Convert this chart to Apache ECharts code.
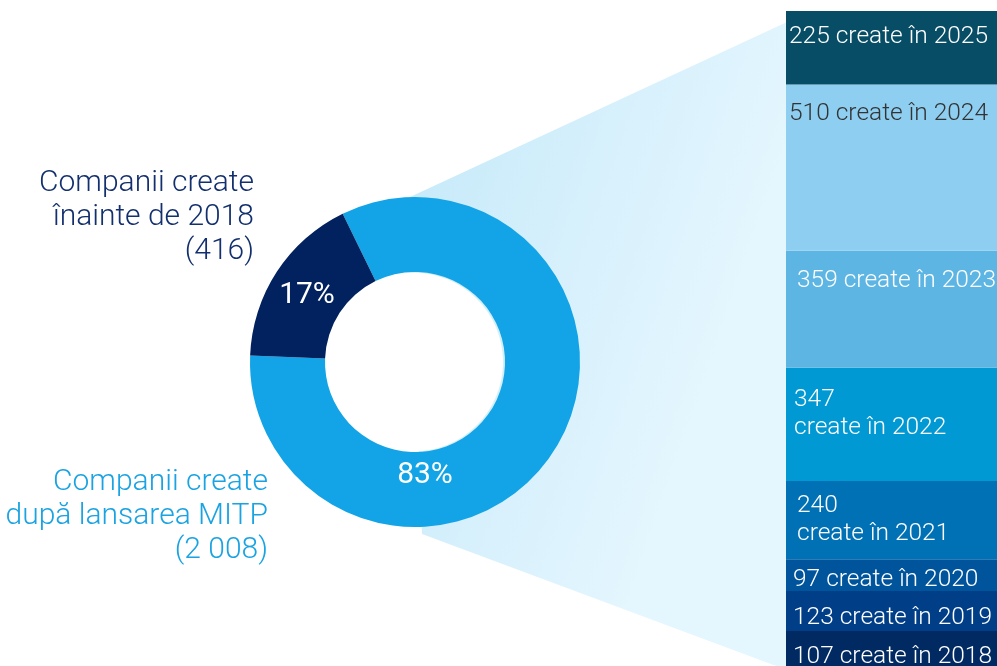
<!DOCTYPE html>
<html>
<head>
<meta charset="utf-8">
<script src="https://cdn.jsdelivr.net/npm/echarts@6/dist/echarts.min.js"></script>
<style>html,body{margin:0;padding:0;background:#fff}#c{width:997px;height:666px}</style>
</head>
<body>
<div id="c"></div>
<script>
// ---- data ----
var pieNames = ['Companii create după lansarea MITP', 'Companii create înainte de 2018'];
var pieValues = [2008, 416];
var pieLabelLines = [['Companii create', 'după lansarea MITP', '(2 008)'], ['Companii create', 'înainte de 2018', '(416)']];
var years = ['2018', '2019', '2020', '2021', '2022', '2023', '2024', '2025'];
var yearValues = [107, 123, 97, 240, 347, 359, 510, 225];
var twoLineYears = ['2021', '2022'];

// ---- styles ----
var FONT = 'Roboto';
var pieColors = ['#12a4e6', '#01215f'];
var barColors = ['#012a62', '#003f88', '#00549c', '#0071b5', '#0099d3', '#5cb5e3', '#8ecff1', '#074d66'];
var barLabelColors = ['#fff', '#fff', '#fff', '#fff', '#fff', '#fff', '#333', '#fff'];
var barLabelOffsets = [[7, 12], [7, 13], [7, 7], [11, 11], [8, 18], [11, 16], [3, 15], [3, 12]];

var total = yearValues.reduce(function (a, b) { return a + b; }, 0);
var pieTotal = pieValues.reduce(function (a, b) { return a + b; }, 0);

var chart = echarts.init(document.getElementById('c'), null, { renderer: 'canvas' });

var series = [];
series.push({
  type: 'pie',
  center: [415, 362],
  radius: [90, 165],
  startAngle: 116,
  clockwise: true,
  silent: true,
  z: 3,
  itemStyle: { borderWidth: 0 },
  label: {
    show: true,
    position: 'inside',
    color: '#fff',
    fontFamily: FONT,
    fontWeight: 400,
    fontSize: 30,
    formatter: function (p) { return Math.round(p.value / pieTotal * 100) + '%'; }
  },
  labelLine: { show: false },
  labelLayout: function (p) {
    if (p.dataIndex === 0) return { x: 425, y: 475, align: 'center', verticalAlign: 'middle' };
    return { x: 307, y: 295, align: 'center', verticalAlign: 'middle' };
  },
  data: pieValues.map(function (v, i) {
    return { name: pieNames[i], value: v, itemStyle: { color: pieColors[i] } };
  })
});

years.forEach(function (y, i) {
  series.push({
    type: 'bar',
    name: y,
    stack: 'total',
    barWidth: '100%',
    silent: true,
    itemStyle: { color: barColors[i] },
    label: {
      show: true,
      position: 'insideTopLeft',
      distance: 0,
      offset: barLabelOffsets[i],
      color: barLabelColors[i],
      fontFamily: FONT,
      fontWeight: 300,
      fontSize: 24.5,
      lineHeight: 28,
      formatter: function (p) {
        var sep = twoLineYears.indexOf(y) >= 0 ? '\n' : ' ';
        return p.value + sep + 'create în ' + y;
      }
    },
    data: [yearValues[i]]
  });
});

function leftLabel(lines, x, yTop, color) {
  return {
    type: 'text',
    z: 5,
    x: x,
    y: yTop,
    style: {
      text: lines.join('\n'),
      fill: color,
      font: '300 30px ' + FONT,
      lineHeight: 34,
      align: 'right',
      verticalAlign: 'top'
    }
  };
}

chart.setOption({
  animation: false,
  grid: { left: 786, top: 11, width: 260, height: total * 0.328, containLabel: false },
  xAxis: { type: 'category', data: ['MITP'], show: false },
  yAxis: { type: 'value', min: 0, max: total, show: false, splitLine: { show: false } },
  graphic: [
    {
      type: 'polygon',
      z: -10,
      silent: true,
      shape: { points: [[410, 197], [787, 22], [787, 670], [422, 534]] },
      style: {
        fill: new echarts.graphic.LinearGradient(0, 0, 1, 0.2, [
          { offset: 0, color: '#c3e8f9' },
          { offset: 0.55, color: '#d6f0fc' },
          { offset: 1, color: '#e4f6fe' }
        ])
      }
    },
    {
      type: 'circle',
      z: -9,
      silent: true,
      shape: { cx: 413.5, cy: 362, r: 89.5 },
      style: { fill: '#ffffff' }
    },
    leftLabel(pieLabelLines[1], 254, 166, '#13306e'),
    leftLabel(pieLabelLines[0], 268, 465, '#1aa3e2')
  ],
  series: series
});
</script>
</body>
</html>
